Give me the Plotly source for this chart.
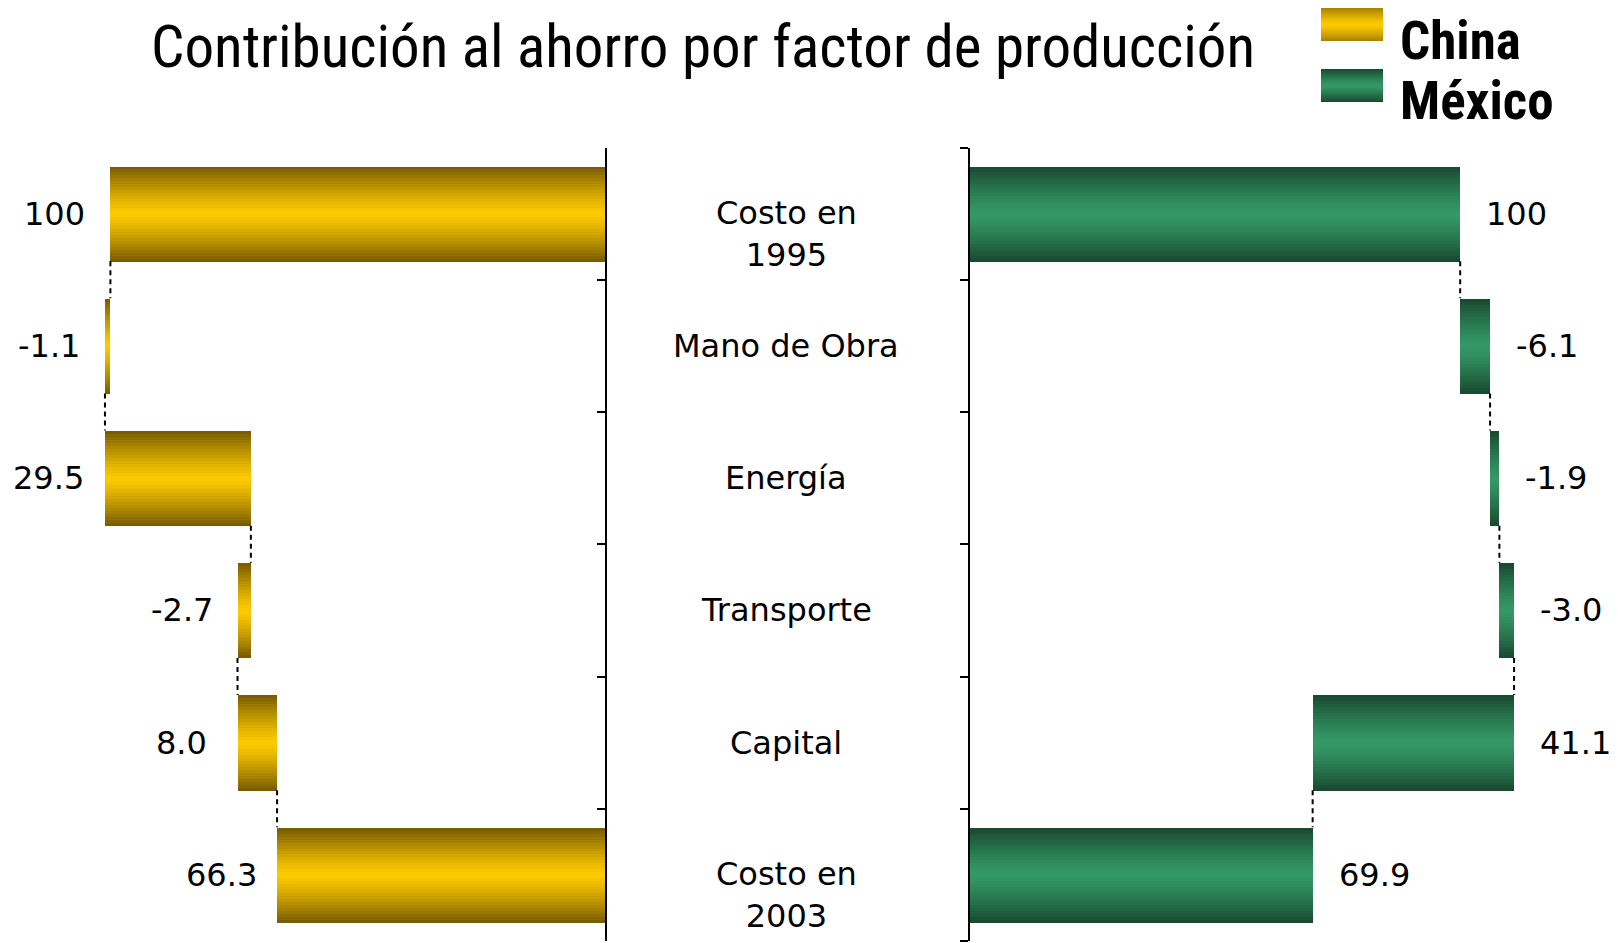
import plotly.graph_objects as go

# data
categories = ['Costo en<br>1995', 'Mano de Obra', 'Energía', 'Transporte', 'Capital', 'Costo en<br>2003']
china_vals = [100, -1.1, 29.5, -2.7, 8.0, 66.3]
mexico_vals = [100, -6.1, -1.9, -3.0, 41.1, 69.9]

# the page body has an 8px margin, so the figure is a bit smaller than the window
PAGE_W, PAGE_H, OFF = 1618, 943, 8
W, H = PAGE_W - OFF, PAGE_H - OFF
BAR_W = 0.72
N_BANDS = 16
LABEL_FONT = 'DejaVu Sans, Verdana, sans-serif'
NARROW_FONT = 'Liberation Sans Narrow, Arial Narrow, Roboto Condensed, sans-serif'

CHINA_EDGE, CHINA_MID = '#7a5d00', '#ffcc00'
MEX_EDGE, MEX_MID = '#1a4a30', '#349a66'


def fx(px):
    return (px - OFF) / W


def fy(py):
    return 1 - (py - OFF) / H


def mix(c1, c2, t):
    a = [int(c1[i:i + 2], 16) for i in (1, 3, 5)]
    b = [int(c2[i:i + 2], 16) for i in (1, 3, 5)]
    return '#%02x%02x%02x' % tuple(round(a[j] + (b[j] - a[j]) * t) for j in range(3))


def waterfall(vals):
    # first and last are totals, the middle ones are savings
    bases, lengths, ends = [], [], []
    level = 0
    for i, v in enumerate(vals):
        if i == 0 or i == len(vals) - 1:
            bases.append(0)
            lengths.append(v)
            level = v
        else:
            bases.append(level)
            lengths.append(-v)
            level = level - v
        ends.append(level)
    return bases, lengths, ends


rows = list(range(len(categories)))
fig = go.Figure()


def add_side(vals, xa, ya, edge, mid, left):
    bases, lengths, ends = waterfall(vals)
    # gradient look: overlay bars of shrinking width, lighter towards the middle
    for k in range(N_BANDS):
        frac = (N_BANDS - k) / N_BANDS
        fig.add_trace(go.Bar(
            y=rows, x=lengths, base=bases, orientation='h',
            width=BAR_W * frac,
            marker=dict(color=mix(mid, edge, frac ** 1.3), line=dict(width=0)),
            xaxis=xa, yaxis=ya, showlegend=False, hoverinfo='skip'))
    # dashed connectors between consecutive bars
    cx, cy = [], []
    for i in range(len(vals) - 1):
        cx += [ends[i], ends[i], None]
        cy += [i + BAR_W / 2, i + 1 - BAR_W / 2, None]
    fig.add_trace(go.Scatter(x=cx, y=cy, mode='lines', xaxis=xa, yaxis=ya,
                             line=dict(color='black', width=2, dash='5px,4px'),
                             showlegend=False, hoverinfo='skip'))
    # value labels
    for i, v in enumerate(vals):
        txt = f'{v:.0f}' if i == 0 else f'{v:.1f}'
        fig.add_annotation(x=max(bases[i], bases[i] + lengths[i]), y=i,
                           xref=xa, yref=ya, text=txt, showarrow=False,
                           xanchor='center' if left else 'left',
                           xshift=-56 if left else 24,
                           font=dict(family=LABEL_FONT, size=32, color='black'))


add_side(china_vals, 'x', 'y', CHINA_EDGE, CHINA_MID, True)
add_side(mexico_vals, 'x2', 'y2', MEX_EDGE, MEX_MID, False)

# category names in the middle
for i, c in enumerate(categories):
    fig.add_annotation(x=fx(786), y=i, xref='paper', yref='y', text=c,
                       showarrow=False, yshift=-20 if '<br>' in c else 0,
                       font=dict(family=LABEL_FONT, size=32, color='black'))

# title
fig.add_annotation(x=fx(703), y=fy(46), xref='paper', yref='paper',
                   text='Contribución al ahorro por factor de producción',
                   showarrow=False, xanchor='center', yanchor='middle',
                   font=dict(family=NARROW_FONT, size=59, color='black'))

# legend drawn by hand: gradient swatch + bold label
for name, edge, mid, top, ty in [('China', '#a88300', CHINA_MID, 8, 41),
                                 ('México', MEX_EDGE, MEX_MID, 69, 101)]:
    h = 33
    for k in range(N_BANDS):
        frac = (N_BANDS - k) / N_BANDS
        c = top + h / 2
        fig.add_shape(type='rect', xref='paper', yref='paper',
                      x0=fx(1321), x1=fx(1383),
                      y0=fy(c + h / 2 * frac), y1=fy(c - h / 2 * frac),
                      fillcolor=mix(mid, edge, frac ** 1.3), line=dict(width=0))
    fig.add_annotation(x=fx(1398), y=fy(ty), xref='paper', yref='paper',
                       text=f'<b>{name}</b>', showarrow=False,
                       xanchor='left', yanchor='middle',
                       font=dict(family=NARROW_FONT, size=53, color='black'))

ytop, ybot = fy(147.6), fy(941)
ticks = [i - 0.5 for i in range(len(categories) + 1)]
axis_style = dict(showline=True, linecolor='black', linewidth=1.5,
                  tickvals=ticks, showticklabels=False, ticklen=8,
                  tickcolor='black', tickwidth=1.5, showgrid=False,
                  zeroline=False, range=[5.5, -0.5], domain=[ybot, ytop])

fig.update_layout(
    width=W, height=H,
    margin=dict(l=0, r=0, t=0, b=0),
    paper_bgcolor='white', plot_bgcolor='white',
    barmode='overlay', bargap=0,
    xaxis=dict(domain=[0, fx(605)], range=[(605 - OFF) / 4.946, 0], visible=False),
    xaxis2=dict(domain=[fx(970), 1], range=[0, 132.2], visible=False, anchor='y2'),
    yaxis=dict(anchor='x', side='right', ticks='inside', **axis_style),
    yaxis2=dict(anchor='x2', side='left', ticks='outside', **axis_style),
)

fig.write_html('out.html')
